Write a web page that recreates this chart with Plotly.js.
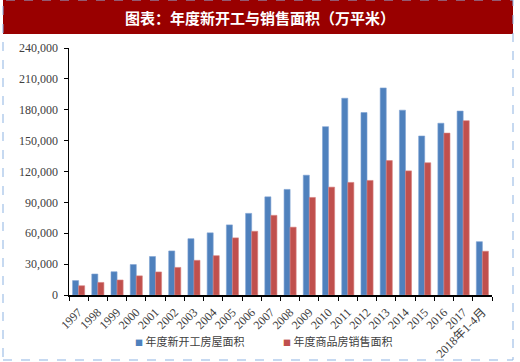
<!DOCTYPE html>
<html>
<head>
<meta charset="utf-8">
<script src="https://cdn.plot.ly/plotly-3.0.1.min.js"></script>
<style>
html,body{margin:0;padding:0;background:#fff;}
#chart{width:520px;height:362px;}
</style>
</head>
<body>
<div id="chart"></div>
<script>
var categories = ["1997","1998","1999","2000","2001","2002","2003","2004","2005","2006","2007","2008","2009","2010","2011","2012","2013","2014","2015","2016","2017","2018年1-4月"];
var newStarts = [14000,20400,22600,29600,37400,42800,54700,60400,68100,79300,95400,102600,116400,163600,191200,177300,201200,179600,154500,166900,178700,51800];
var sales = [9000,12200,14600,18600,22400,26800,33700,38200,55500,61900,77400,65900,94800,104800,109400,111300,130600,120600,128500,157300,169400,42500];
var seriesNames = ["年度新开工房屋面积","年度商品房销售面积"];
var seriesColors = ["#4F81BD","#C0504D"];
var titleText = "图表：年度新开工与销售面积（万平米）";

var traces = [
  {type:"bar", name:seriesNames[0], x:categories, y:newStarts, showlegend:false,
   marker:{color:seriesColors[0], line:{color:"#7FA3D3", width:0.6}}},
  {type:"bar", name:seriesNames[1], x:categories, y:sales, showlegend:false,
   marker:{color:seriesColors[1], line:{color:"#D68280", width:0.6}}}
];

function legendText(i){
  return '<span style="color:'+seriesColors[i]+';font-size:8px">■</span> '+seriesNames[i];
}

var layout = {
  width:520, height:362,
  margin:{l:69, r:28, t:48, b:67, pad:0},
  paper_bgcolor:"#ffffff", plot_bgcolor:"#ffffff",
  barmode:"group", bargap:0.37, bargroupgap:0,
  showlegend:false,
  xaxis:{type:"category", showgrid:false, zeroline:false, showline:true,
    linecolor:"#000", linewidth:1.5, ticks:"outside", ticklen:4, tickcolor:"#000",
    tickson:"boundaries", tickangle:-45, ticklabelstandoff:4,
    tickfont:{family:"Liberation Serif, Noto Sans CJK SC, serif", size:12, color:"#404040"},
    automargin:false},
  yaxis:{range:[0,240000], dtick:30000, tickformat:",d", showgrid:false, zeroline:false,
    showline:true, linecolor:"#000", linewidth:1.5, ticks:"outside", ticklen:4, tickcolor:"#000",
    ticklabelstandoff:3,
    tickfont:{family:"Liberation Serif, serif", size:12, color:"#404040"},
    automargin:false},
  shapes:[
    {type:"rect", xref:"paper", yref:"paper", x0:-66/423, x1:444/423, y0:1+14/247, y1:1+48/247,
     fillcolor:"#990000", line:{width:0}, layer:"below"},
    {type:"rect", xref:"paper", yref:"paper", x0:-66/423, x1:444/423, y0:-65/247, y1:1+48/247,
     fillcolor:"rgba(0,0,0,0)", line:{color:"#8DB3E2", width:1, dash:"dash"}, layer:"above"}
  ],
  annotations:[
    {text:"<b>"+titleText+"</b>", xref:"paper", yref:"paper", x:(260-69)/423, y:1+31/247,
     xanchor:"center", yanchor:"middle", showarrow:false,
     font:{family:"Noto Sans CJK SC, sans-serif", size:15, color:"#ffffff"}},
    {text:legendText(0), xref:"paper", yref:"paper", x:(133-69)/423, y:-46/247,
     xanchor:"left", yanchor:"middle", showarrow:false,
     font:{family:"Noto Sans CJK SC, sans-serif", size:11, color:"#404040"}},
    {text:legendText(1), xref:"paper", yref:"paper", x:(281-69)/423, y:-46/247,
     xanchor:"left", yanchor:"middle", showarrow:false,
     font:{family:"Noto Sans CJK SC, sans-serif", size:11, color:"#404040"}}
  ]
};

Plotly.newPlot("chart", traces, layout, {displayModeBar:false, staticPlot:true});
</script>
</body>
</html>
